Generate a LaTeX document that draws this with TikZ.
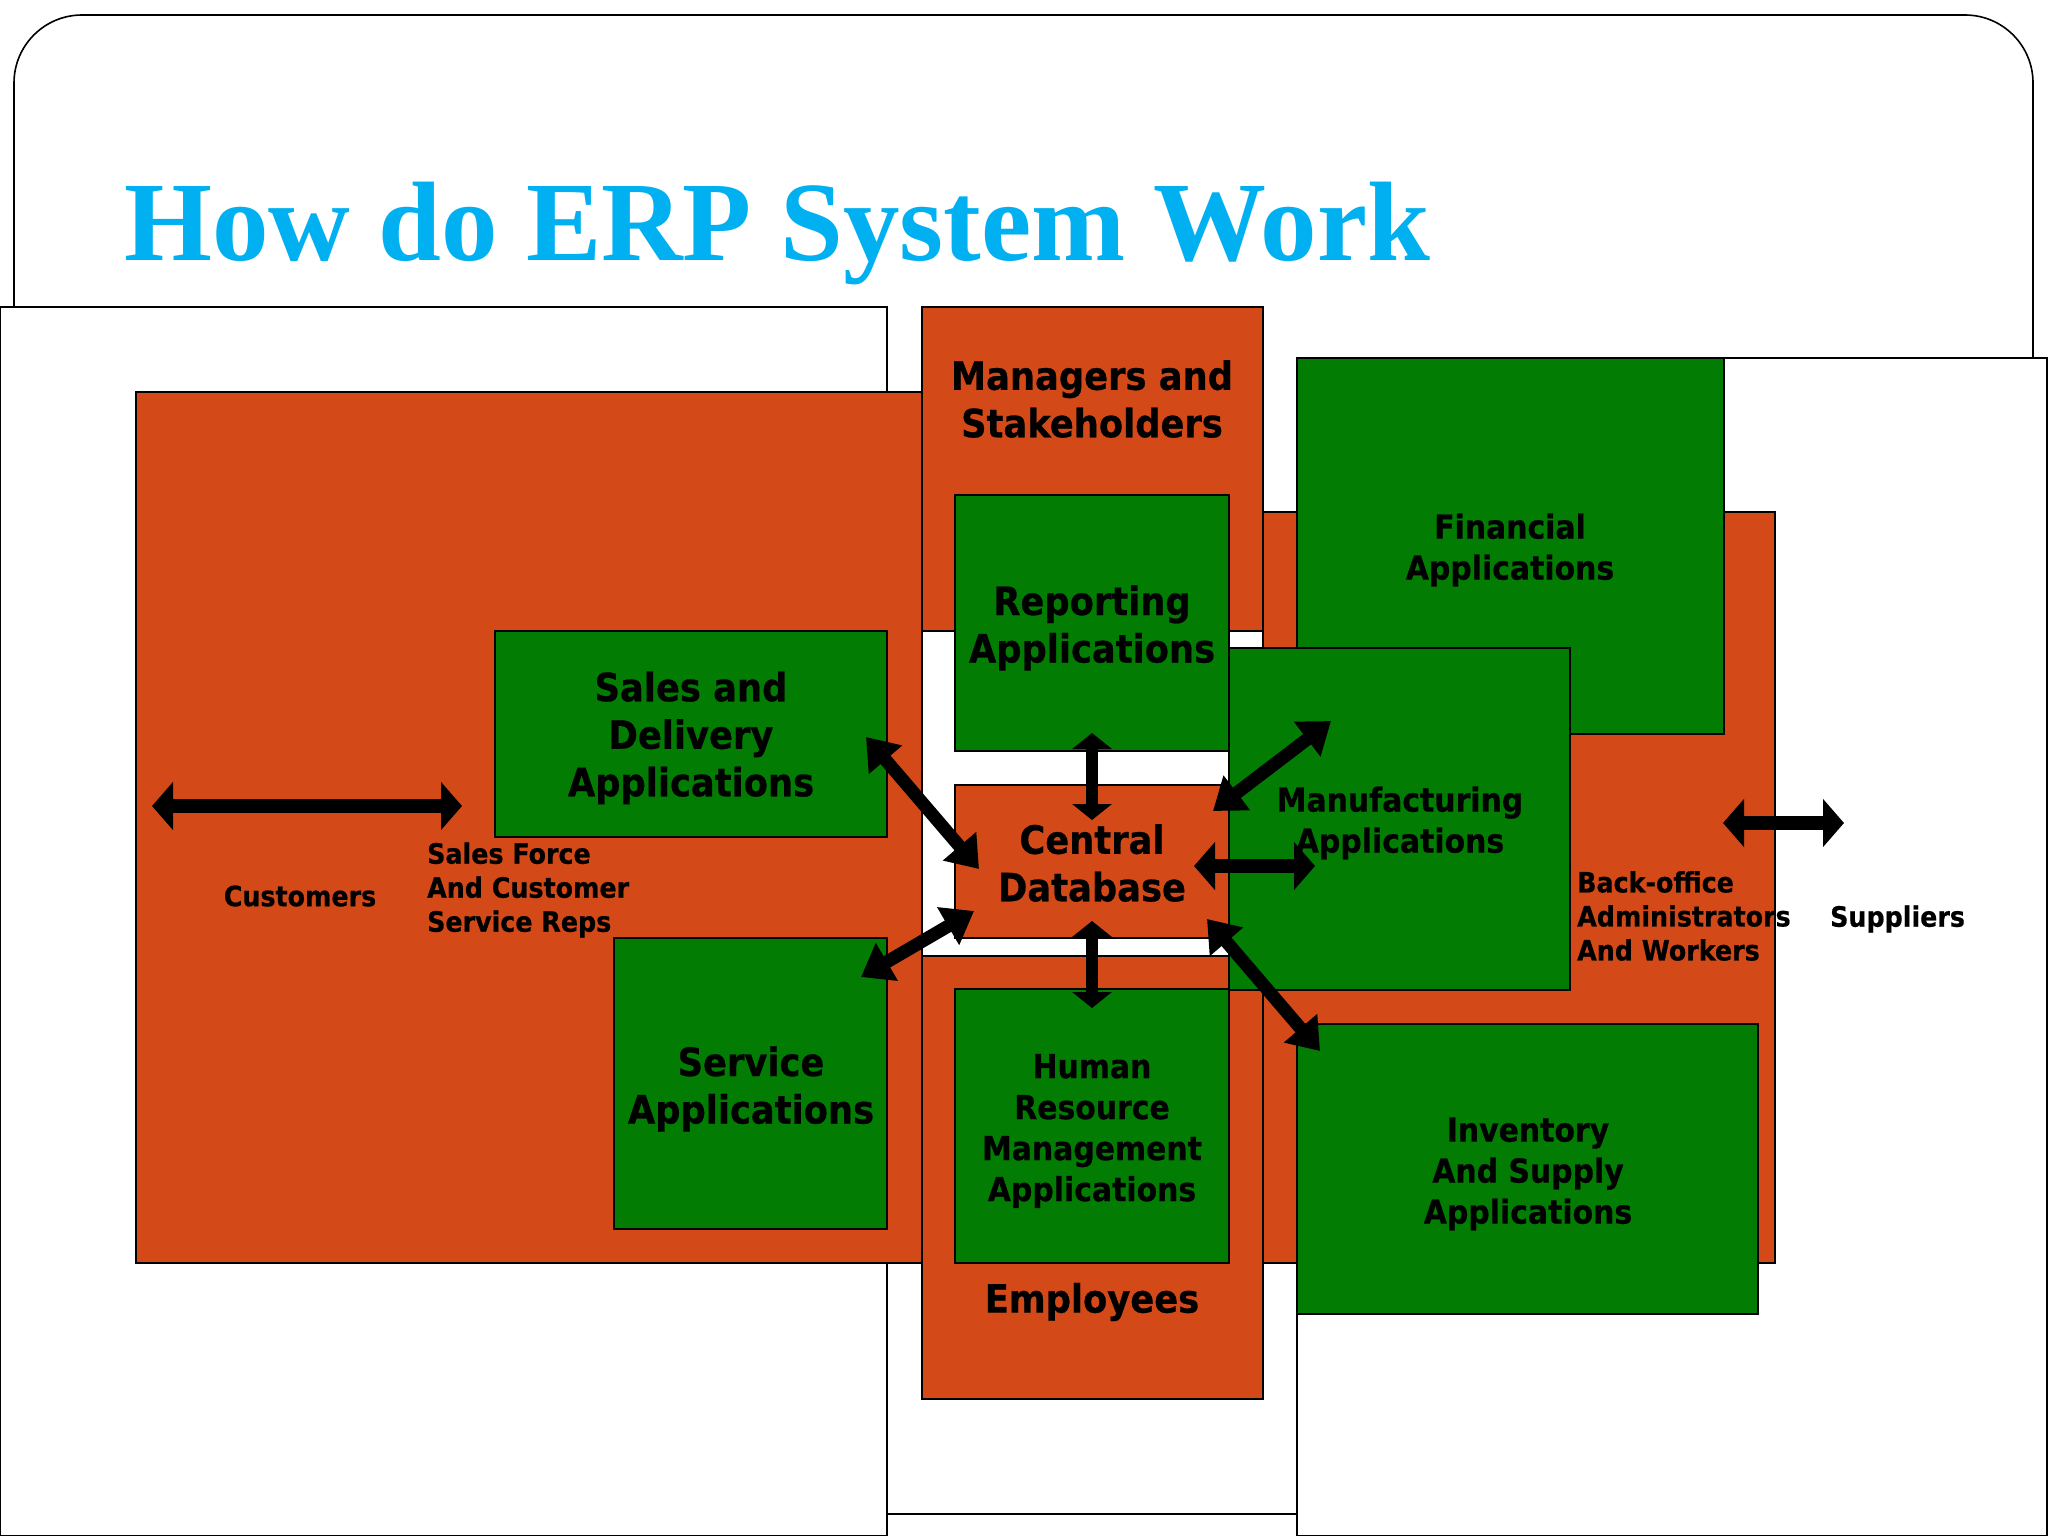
\documentclass[tikz,border=0pt]{standalone}
\usepackage{fontspec}
\usetikzlibrary{fit,arrows.meta}
\setmainfont{DejaVu Sans}[BoldFeatures={FakeStretch=0.905,FakeBold=0.6}]
\newfontfamily\titlefont{Liberation Serif}
\definecolor{panelred}{HTML}{D34A18}
\definecolor{panelgreen}{HTML}{027C02}
\definecolor{titleblue}{HTML}{00B0F0}
\tikzset{
  box/.style={draw=black,line width=1.9pt,inner sep=0pt,outer sep=0pt},
  whitebox/.style={box,fill=white},
  redbox/.style={box,fill=panelred},
  greenbox/.style={box,fill=panelgreen},
  biglabel/.style={inner sep=0pt,align=center,font=\fontsize{39}{47.5}\selectfont\bfseries},
  midlabel/.style={inner sep=0pt,align=center,font=\fontsize{33}{41}\selectfont\bfseries},
  smalllabel/.style={inner sep=0pt,align=left,font=\fontsize{28}{34}\selectfont\bfseries},
  widearrow/.style={line width=14pt,{Triangle[length=21pt,width=47pt]}-{Triangle[length=21pt,width=47pt]}},
  slimarrow/.style={line width=12pt,{Triangle[length=16pt,width=39pt]}-{Triangle[length=16pt,width=39pt]}},
  tiltarrow/.style={line width=13pt,{Triangle[length=30pt,width=42pt]}-{Triangle[length=30pt,width=42pt]}},
}
\newcommand{\panel}[6]{\node[#1,fit={(#3,#4)(#5,#6)}] (#2) {};}
\begin{document}
\begin{tikzpicture}[x=1pt,y=-1pt]
\useasboundingbox (0,0) rectangle (2048,1536);
\fill[white] (0,0) rectangle (2048,1536);
\draw[line width=1.6pt,rounded corners=68pt] (14,15) rectangle (2033,1514);
\panel{whitebox}{leftwhite}{0}{307}{887}{1536}
\panel{whitebox}{rightwhite}{1297}{358}{2047}{1536}
\panel{redbox}{leftred}{136}{392}{922}{1263}
\panel{redbox}{rightred}{1263}{512}{1775}{1263}
\panel{redbox}{managers}{922}{307}{1263}{631}
\panel{redbox}{employees}{922}{956}{1263}{1399}
\panel{greenbox}{reporting}{955}{495}{1229}{751}
\panel{greenbox}{sales}{495}{631}{887}{837}
\panel{greenbox}{service}{614}{938}{887}{1229}
\panel{greenbox}{hr}{955}{989}{1229}{1263}
\panel{greenbox}{financial}{1297}{358}{1724}{734}
\panel{greenbox}{manufacturing}{1229}{648}{1570}{990}
\panel{greenbox}{inventory}{1297}{1024}{1758}{1314}
\panel{redbox}{central}{955}{785}{1229}{938}

\node[inner sep=0pt,anchor=base west,text=titleblue,font=\titlefont\fontsize{113}{113}\selectfont\bfseries] (title) at (124,260) {How do ERP System Work};

\node[biglabel] (tmanagers) at (1092,399) {Managers and\\Stakeholders};
\node[biglabel] (treporting) at (1092,628) {Reporting\\Applications};
\node[biglabel] (tcentral) at (1092,863) {Central\\Database};
\node[biglabel] (tsales) at (691,738) {Sales and\\Delivery\\Applications};
\node[biglabel] (tservice) at (751,1089) {Service\\Applications};
\node[biglabel] (temployees) at (1092,1302) {Employees};
\node[midlabel] (tfinancial) at (1510,550) {Financial\\Applications};
\node[midlabel] (tmanufacturing) at (1400,823) {Manufacturing\\Applications};
\node[midlabel] (thr) at (1092,1131) {Human\\Resource\\Management\\Applications};
\node[midlabel] (tinventory) at (1528,1174) {Inventory\\And Supply\\Applications};
\node[smalllabel] (tcustomers) at (300,896) {Customers};
\node[smalllabel,anchor=west] (tforce) at (427,890) {Sales Force\\And Customer\\Service Reps};
\node[smalllabel,anchor=west] (tback) at (1577,916) {Back-office\\Administrators\\And Workers};
\node[smalllabel,anchor=west] (tsuppliers) at (1830,919) {Suppliers};

\coordinate (custL) at (152,806);
\coordinate (custR) at (462,806);
\coordinate (repA) at (1092,733);
\coordinate (repB) at (1092,820);
\coordinate (empA) at (1092,921);
\coordinate (empB) at (1092,1008);
\coordinate (manA) at (1194,866);
\coordinate (manB) at (1315,866);
\coordinate (finA) at (1213,811);
\coordinate (finB) at (1331,721);
\coordinate (invA) at (1207,919);
\coordinate (invB) at (1320,1051);
\coordinate (salA) at (866,737);
\coordinate (salB) at (979,869);
\coordinate (srvA) at (974,911);
\coordinate (srvB) at (861,977);
\coordinate (supL) at (1723,823);
\coordinate (supR) at (1844,823);

\draw[widearrow] (custL) -- (custR);
\draw[slimarrow] (repA) -- (repB);
\draw[slimarrow] (empA) -- (empB);
\draw[widearrow] (manA) -- (manB);
\draw[tiltarrow] (finA) -- (finB);
\draw[tiltarrow] (invA) -- (invB);
\draw[tiltarrow] (salA) -- (salB);
\draw[tiltarrow] (srvA) -- (srvB);
\draw[widearrow] (supL) -- (supR);
\end{tikzpicture}
\end{document}
